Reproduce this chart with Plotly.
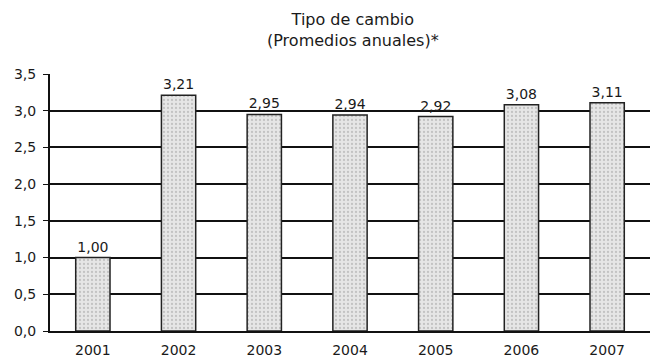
import plotly.graph_objects as go

years = ["2001", "2002", "2003", "2004", "2005", "2006", "2007"]
rates = [1.00, 3.21, 2.95, 2.94, 2.92, 3.08, 3.11]
y_ticks = [0.0, 0.5, 1.0, 1.5, 2.0, 2.5, 3.0, 3.5]

FONT = "DejaVu Sans, Verdana, sans-serif"
INK = "#1a1a1a"

fig = go.Figure(
    go.Bar(
        x=years,
        y=rates,
        text=[f"{v:.2f}".replace(".", ",") for v in rates],
        textposition="outside",
        cliponaxis=False,
        textfont=dict(family=FONT, size=14, color=INK),
        marker=dict(
            color="#e6e6e6",
            line=dict(color="#222", width=1.5),
            pattern=dict(shape=".", fgcolor="#a0a0a0", bgcolor="#e6e6e6", size=4, solidity=0.25),
        ),
    )
)

fig.update_layout(
    width=653,
    height=360,
    margin=dict(l=50, r=3, t=74, b=29),
    paper_bgcolor="white",
    plot_bgcolor="white",
    separators=",.",
    bargap=0.6,
    showlegend=False,
    font=dict(family=FONT, size=14, color=INK),
    annotations=[
        dict(
            text="Tipo de cambio<br>(Promedios anuales)*",
            xref="paper",
            yref="paper",
            x=0.505,
            y=1 + 44 / 257,
            xanchor="center",
            yanchor="middle",
            showarrow=False,
            font=dict(family=FONT, size=16, color=INK),
        )
    ],
)

fig.update_yaxes(
    range=[0, 3.5],
    tickvals=y_ticks,
    tickformat=".1f",
    showgrid=True,
    gridcolor="#111",
    gridwidth=2,
    showline=True,
    linecolor="#111",
    linewidth=2,
    ticks="outside",
    ticklen=5,
    tickcolor="#111",
    zeroline=False,
    automargin=False,
    ticklabelstandoff=4,
    tickfont=dict(family=FONT, size=14, color=INK),
)

fig.update_xaxes(
    showline=True,
    linecolor="#111",
    linewidth=2,
    showgrid=False,
    ticks="",
    automargin=False,
    ticklabelstandoff=5,
    tickfont=dict(family=FONT, size=14, color=INK),
)

fig.write_html("out.html")
